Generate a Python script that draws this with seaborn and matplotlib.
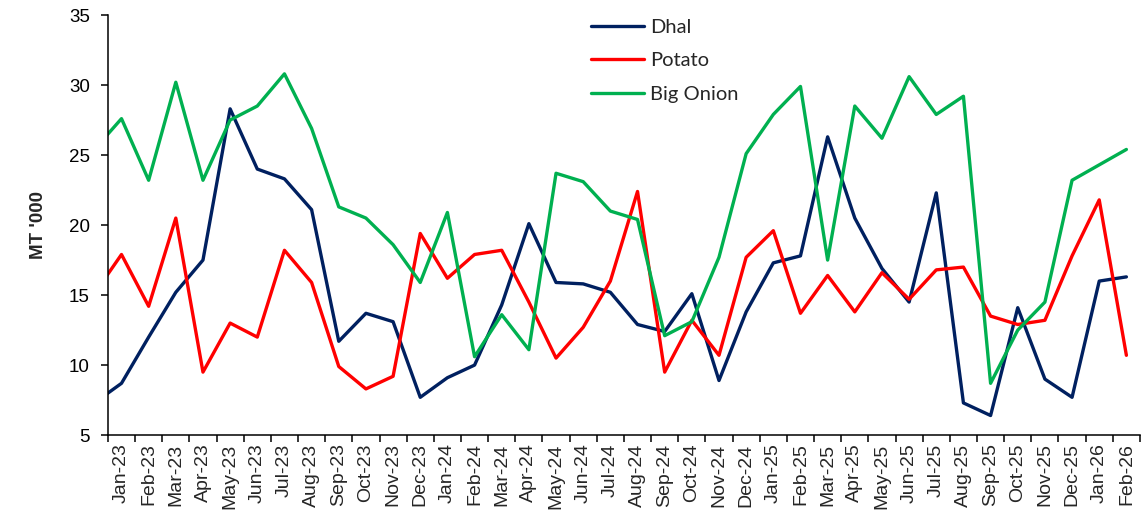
import numpy as np
import pandas as pd
import matplotlib
matplotlib.use("Agg")
import matplotlib.pyplot as plt
import seaborn as sns

# Dec-22 is only there so the lines run into the left axis, as in the original
months = ["Dec-22",
          "Jan-23", "Feb-23", "Mar-23", "Apr-23", "May-23", "Jun-23", "Jul-23", "Aug-23",
          "Sep-23", "Oct-23", "Nov-23", "Dec-23",
          "Jan-24", "Feb-24", "Mar-24", "Apr-24", "May-24", "Jun-24", "Jul-24", "Aug-24",
          "Sep-24", "Oct-24", "Nov-24", "Dec-24",
          "Jan-25", "Feb-25", "Mar-25", "Apr-25", "May-25", "Jun-25", "Jul-25", "Aug-25",
          "Sep-25", "Oct-25", "Nov-25", "Dec-25",
          "Jan-26", "Feb-26"]

dhal = [7.3,
        8.7, 12.0, 15.2, 17.5, 28.3, 24.0, 23.3, 21.1, 11.7, 13.7, 13.1, 7.7,
        9.1, 10.0, 14.3, 20.1, 15.9, 15.8, 15.2, 12.9, 12.4, 15.1, 8.9, 13.8,
        17.3, 17.8, 26.3, 20.5, 16.9, 14.5, 22.3, 7.3, 6.4, 14.1, 9.0, 7.7,
        16.0, 16.3]

potato = [15.1,
          17.9, 14.2, 20.5, 9.5, 13.0, 12.0, 18.2, 15.9, 9.9, 8.3, 9.2, 19.4,
          16.2, 17.9, 18.2, 14.5, 10.5, 12.7, 16.0, 22.4, 9.5, 13.2, 10.7, 17.7,
          19.6, 13.7, 16.4, 13.8, 16.6, 14.7, 16.8, 17.0, 13.5, 12.9, 13.2, 17.8,
          21.8, 10.7]

big_onion = [25.4,
             27.6, 23.2, 30.2, 23.2, 27.5, 28.5, 30.8, 26.9, 21.3, 20.5, 18.6, 15.9,
             20.9, 10.6, 13.6, 11.1, 23.7, 23.1, 21.0, 20.4, 12.1, 13.1, 17.7, 25.1,
             27.9, 29.9, 17.5, 28.5, 26.2, 30.6, 27.9, 29.2, 8.7, 12.5, 14.5, 23.2,
             24.3, 25.4]

series_names = ["Dhal", "Potato", "Big Onion"]
colors = {"Dhal": "#002060", "Potato": "#FF0000", "Big Onion": "#00B050"}

pos = np.arange(len(months)) - 1  # Jan-23 sits at 0
df = pd.DataFrame({"pos": pos, "Dhal": dhal, "Potato": potato, "Big Onion": big_onion})
long_df = df.melt(id_vars="pos", var_name="series", value_name="value")

sns.set_style("white")
plt.rcParams["font.family"] = ["Liberation Sans", "DejaVu Sans"]

fig = plt.figure(figsize=(11.48, 5.18), dpi=100)
ax = fig.add_axes([0.094, 0.160, 0.899, 0.811])

sns.lineplot(data=long_df, x="pos", y="value", hue="series", hue_order=series_names,
             palette=colors, linewidth=2.4, ax=ax, legend=True)

ax.set_xlim(-0.5, len(months) - 1.5)
ax.set_ylim(5, 35)
ax.set_yticks(np.arange(5, 36, 5))
ax.tick_params(axis="y", direction="out", length=5, width=1.1, labelsize=13.5,
               colors="black", left=True, pad=8)

# category boundaries carry the tick marks, labels sit in the middle
ax.set_xticks(np.arange(-0.5, len(months) - 1, 1))
ax.set_xticklabels([])
ax.set_xticks(pos[1:], minor=True)
ax.set_xticklabels(months[1:], minor=True, rotation=90, fontsize=14)
ax.tick_params(axis="x", which="major", direction="out", length=5, width=1.1,
               bottom=True, colors="black")
ax.tick_params(axis="x", which="minor", length=0, pad=6)

for side in ["top", "right"]:
    ax.spines[side].set_visible(False)
for side in ["left", "bottom"]:
    ax.spines[side].set_color("black")
    ax.spines[side].set_linewidth(1.1)

ax.set_xlabel("")
ax.set_ylabel("MT '000", fontsize=13.5, fontweight="bold", labelpad=16)

handles, labels = ax.get_legend_handles_labels()
ax.legend(handles, labels, loc="upper left", bbox_to_anchor=(0.499, 0.998),
          bbox_transform=fig.transFigure, frameon=False,
          prop={"family": ["Lato", "DejaVu Sans"], "size": 14.5},
          handlelength=2.65, handletextpad=0.3, labelspacing=0.8)

ax.grid(False)
fig.savefig("out.png", dpi=100)
